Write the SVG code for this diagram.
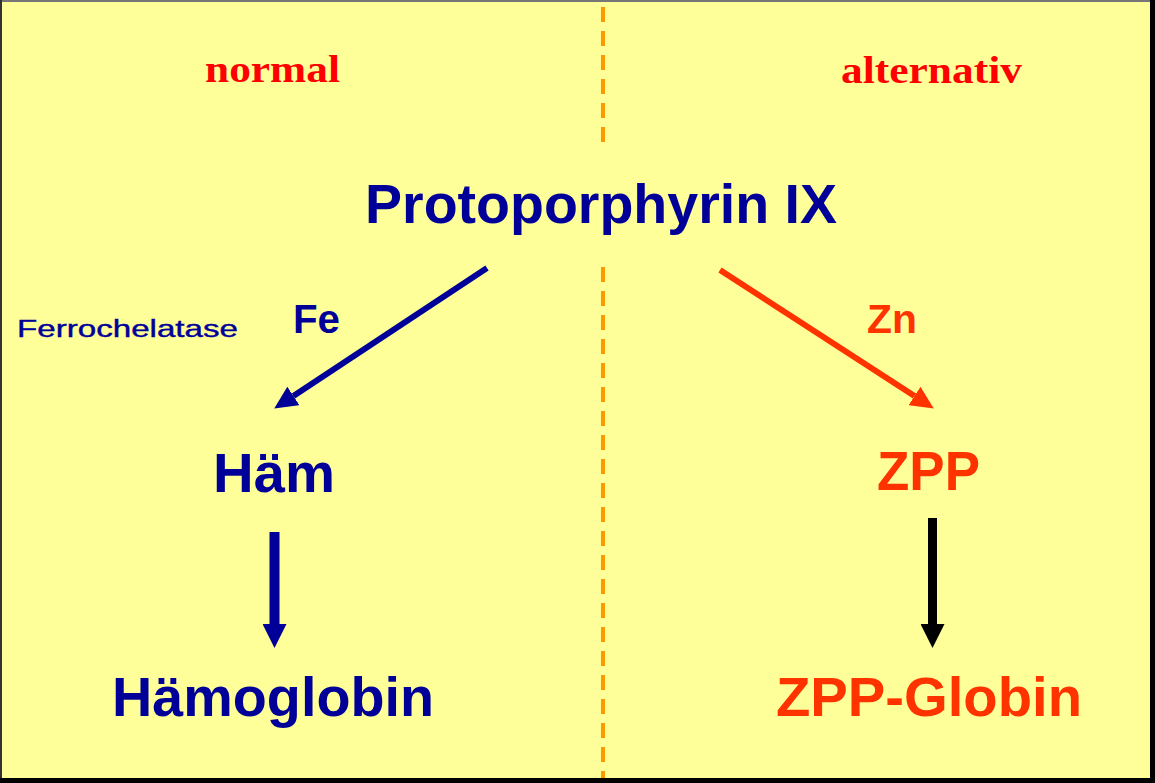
<svg xmlns="http://www.w3.org/2000/svg" width="1155" height="783" viewBox="0 0 1155 783">
  <style>
    .sans { font-family: "Liberation Sans", Arial, sans-serif; font-weight: bold; }
    .serif { font-family: "Liberation Serif", "Times New Roman", serif; font-weight: bold; fill: #FF0000; }
    .blue { fill: #000099; }
    .red { fill: #FF3300; }
    .divider { stroke: #FF9900; stroke-width: 4; stroke-dasharray: 15 9; fill: none; }
  </style>
  <defs>
    <marker id="headBlueDiag" markerUnits="userSpaceOnUse" markerWidth="24" markerHeight="22" refX="0" refY="11" orient="auto" viewBox="0 0 24 22">
      <path d="M0,0 L23,11 L0,22 z" fill="#000099"/>
    </marker>
    <marker id="headRedDiag" markerUnits="userSpaceOnUse" markerWidth="24" markerHeight="22" refX="0" refY="11" orient="auto" viewBox="0 0 24 22">
      <path d="M0,0 L23,11 L0,22 z" fill="#FF3300"/>
    </marker>
    <marker id="headBlueDown" markerUnits="userSpaceOnUse" markerWidth="24" markerHeight="24" refX="0" refY="12" orient="auto" viewBox="0 0 24 24">
      <path d="M0,0 L24,12 L0,24 z" fill="#000099"/>
    </marker>
    <marker id="headBlackDown" markerUnits="userSpaceOnUse" markerWidth="24" markerHeight="24" refX="0" refY="12" orient="auto" viewBox="0 0 24 24">
      <path d="M0,0 L24,12 L0,24 z" fill="#000000"/>
    </marker>
  </defs>

  <rect id="background" x="0" y="0" width="1155" height="783" fill="#FFFF99"/>
  <g id="frame">
    <rect x="0" y="0" width="1155" height="2" fill="#777777"/>
    <rect x="0" y="0" width="2" height="783" fill="#333333"/>
    <rect x="1150" y="0" width="5" height="783" fill="#000000"/>
    <rect x="0" y="778" width="1155" height="5" fill="#000000"/>
  </g>

  <g id="divider">
    <line class="divider" x1="603" y1="7" x2="603" y2="146"/>
    <line class="divider" x1="603" y1="267" x2="603" y2="778"/>
  </g>

  <g id="headers">
    <text id="label-normal" class="serif" x="205" y="82" font-size="38" textLength="135" lengthAdjust="spacingAndGlyphs">normal</text>
    <text id="label-alternativ" class="serif" x="841" y="83" font-size="38" textLength="181" lengthAdjust="spacingAndGlyphs">alternativ</text>
  </g>

  <g id="connectors">
    <line x1="487" y1="268" x2="293.4" y2="395.9" stroke="#000099" stroke-width="6" marker-end="url(#headBlueDiag)"/>
    <line x1="720" y1="270" x2="914.5" y2="396" stroke="#FF3300" stroke-width="6" marker-end="url(#headRedDiag)"/>
    <line x1="274.5" y1="532" x2="274.5" y2="624" stroke="#000099" stroke-width="10" marker-end="url(#headBlueDown)"/>
    <line x1="932.5" y1="518" x2="932.5" y2="624" stroke="#000000" stroke-width="9" marker-end="url(#headBlackDown)"/>
  </g>

  <g id="edge-labels">
    <text id="label-fe" class="sans blue" x="293" y="333" font-size="41" textLength="47" lengthAdjust="spacingAndGlyphs">Fe</text>
    <text id="label-zn" class="sans red" x="867" y="333" font-size="41" textLength="50" lengthAdjust="spacingAndGlyphs">Zn</text>
    <text id="label-ferrochelatase" x="17" y="337" font-family="Liberation Sans, Arial, sans-serif" font-size="23" fill="#000099" stroke="#000099" stroke-width="0.4" textLength="221" lengthAdjust="spacingAndGlyphs">Ferrochelatase</text>
  </g>

  <g id="node-protoporphyrin">
    <text class="sans blue" x="365" y="223" font-size="55" textLength="472" lengthAdjust="spacingAndGlyphs">Protoporphyrin IX</text>
  </g>
  <g id="node-haem">
    <text class="sans blue" x="213" y="492" font-size="56" textLength="122" lengthAdjust="spacingAndGlyphs">Häm</text>
  </g>
  <g id="node-zpp">
    <text class="sans red" x="877" y="490" font-size="56" textLength="103" lengthAdjust="spacingAndGlyphs">ZPP</text>
  </g>
  <g id="node-haemoglobin">
    <text class="sans blue" x="112" y="716" font-size="56" textLength="322" lengthAdjust="spacingAndGlyphs">Hämoglobin</text>
  </g>
  <g id="node-zpp-globin">
    <text class="sans red" x="776" y="716" font-size="56" textLength="306" lengthAdjust="spacingAndGlyphs">ZPP-Globin</text>
  </g>
</svg>
